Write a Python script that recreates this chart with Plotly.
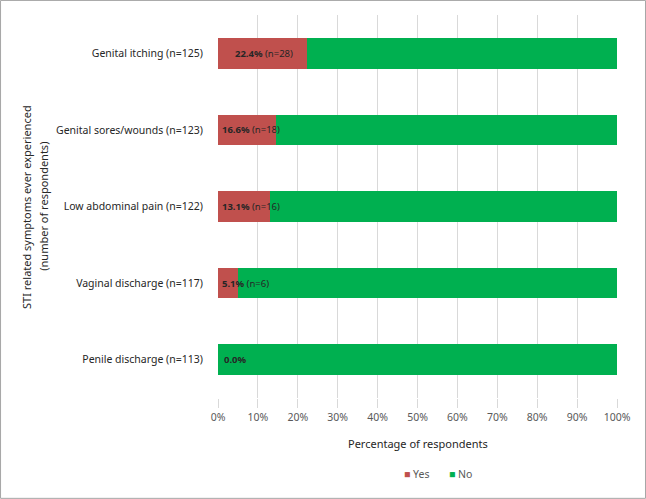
import plotly.graph_objects as go

symptoms = [
    "Genital itching (n=125)",
    "Genital sores/wounds (n=123)",
    "Low abdominal pain (n=122)",
    "Vaginal discharge (n=117)",
    "Penile discharge (n=113)",
]
yes_pct = [22.4, 14.6, 13.1, 5.1, 0.0]
no_pct = [77.6, 85.4, 86.9, 94.9, 100.0]
label_pct = ["22.4%", "16.6%", "13.1%", "5.1%", "0.0%"]
label_n = ["(n=28)", "(n=18)", "(n=16)", "(n=6)", ""]

FONT = "Noto Sans"
RED = "#C0504D"
GREEN = "#00B050"

fig = go.Figure()

fig.add_trace(go.Bar(
    y=symptoms, x=yes_pct, name="Yes", orientation="h",
    marker=dict(color=RED, line=dict(width=0)),
))
fig.add_trace(go.Bar(
    y=symptoms, x=no_pct, name="No", orientation="h",
    marker=dict(color=GREEN, line=dict(width=0)),
))

# data labels at the left of each bar (first one sits a little further in)
label_shift = [15, 2, 2, 2, 4]
for s, p, n, sh in zip(symptoms, label_pct, label_n, label_shift):
    txt = f"<b>{p}</b> {n}".strip()
    fig.add_annotation(
        x=0, y=s, xref="x", yref="y", text=txt, showarrow=False,
        xanchor="left", xshift=sh, font=dict(family=FONT, size=9.5, color="#262626"),
    )

# outer chart border
fig.add_shape(
    type="rect", xref="paper", yref="paper",
    x0=-0.545, x1=1.0714, y0=-0.262, y1=1.038,
    line=dict(color="#A6A6A6", width=1), layer="below",
)

# compact legend like the original
legend_items = [
    f"<span style='color:{RED}'>■</span> Yes",
    f"<span style='color:{GREEN}'>■</span> No",
]
legend_x = [0.497, 0.607]

ytitle_lines = ["STI related symptoms ever experienced", "(number of respondents)"]
ytitle_x = [-0.48, -0.438]

fig.update_layout(
    barmode="stack",
    bargap=0.6,
    width=646, height=499,
    margin=dict(l=218, r=29, t=15, b=101),
    plot_bgcolor="white", paper_bgcolor="white",
    font=dict(family=FONT, size=10.5, color="#262626"),
    showlegend=False,
    annotations=list(fig.layout.annotations) + [
        dict(text=t, xref="paper", yref="paper", x=tx, y=0.5, textangle=-90,
             showarrow=False, xanchor="center", yanchor="middle",
             font=dict(family=FONT, size=11, color="#262626"))
        for t, tx in zip(ytitle_lines, ytitle_x)
    ] + [
        dict(text="Percentage of respondents", xref="paper", yref="paper",
             x=0.5, y=-0.12, showarrow=False, xanchor="center", yanchor="middle",
             font=dict(family=FONT, size=11, color="#262626")),
    ] + [
        dict(text=t, xref="paper", yref="paper", x=lx, y=-0.198,
             showarrow=False, xanchor="center", yanchor="middle",
             font=dict(family=FONT, size=10.5, color="#595959"))
        for t, lx in zip(legend_items, legend_x)
    ],
)

fig.update_xaxes(
    range=[0, 100], dtick=10, ticksuffix="%",
    showgrid=True, gridcolor="#D9D9D9", gridwidth=1,
    zeroline=False, showline=False,
    ticks="outside", ticklen=9, tickcolor="#D9D9D9",
    tickfont=dict(size=10.5, color="#595959"),
)
fig.update_yaxes(
    categoryorder="array", categoryarray=symptoms[::-1],
    showgrid=False, zeroline=False, showline=False,
    ticks="outside", ticklen=12, tickcolor="rgba(0,0,0,0)",
    tickfont=dict(size=10.5, color="#262626"),
)

fig.write_html("out.html", config={"displayModeBar": False},
               post_script="document.body.style.margin='0';")
